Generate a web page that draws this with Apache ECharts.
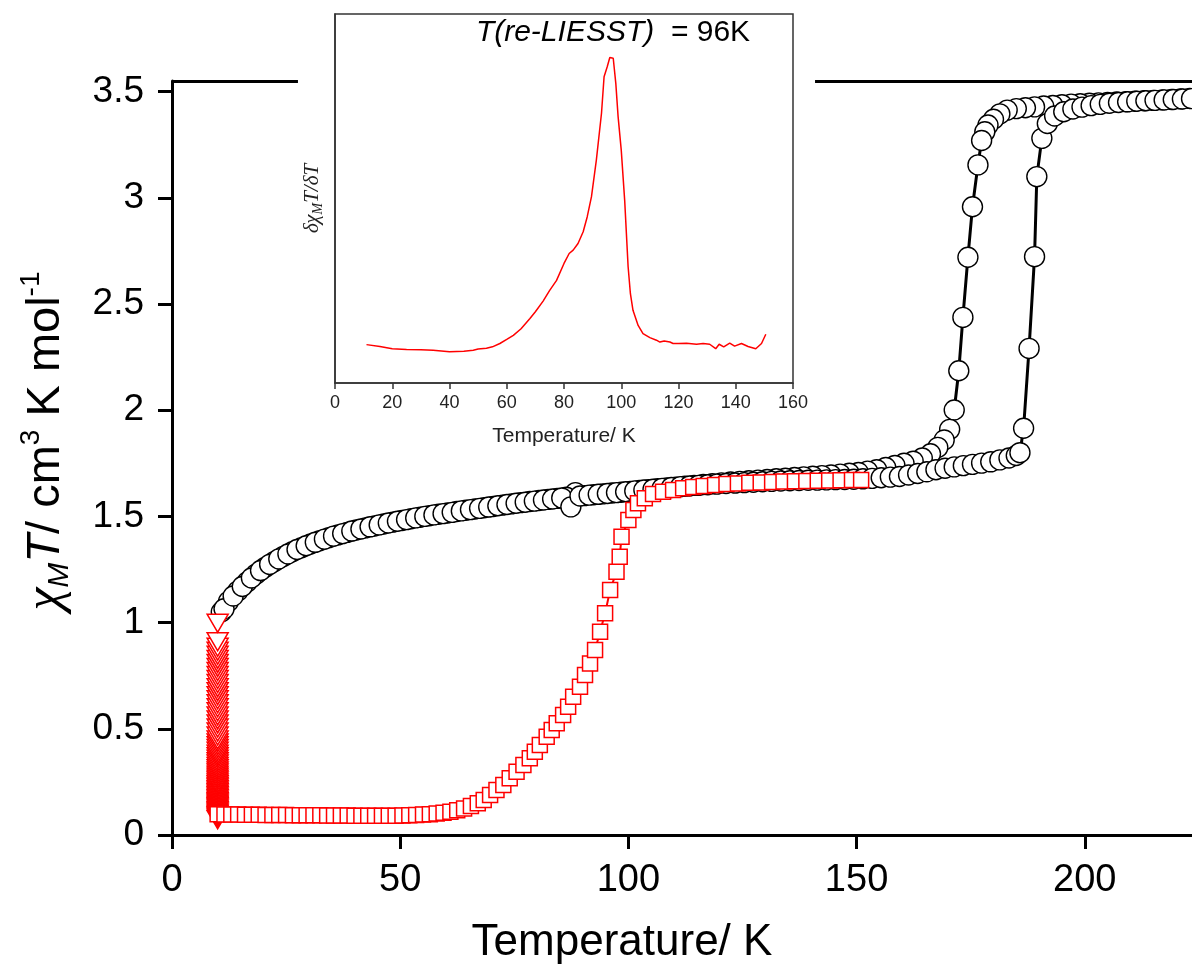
<!DOCTYPE html>
<html>
<head>
<meta charset="utf-8">
<script src="https://cdn.jsdelivr.net/npm/echarts@6/dist/echarts.min.js"></script>
<style>
html,body{margin:0;padding:0;background:#fff;}
#c{width:1192px;height:971px;}
</style>
</head>
<body>
<div id="c"></div>
<script>
// ---------- main chart data ----------
const xTicks = [0, 50, 100, 150, 200];
const yTicks = [0, 0.5, 1, 1.5, 2, 2.5, 3, 3.5];
const insetXTicks = [0, 20, 40, 60, 80, 100, 120, 140, 160];

// cooling branch (black circles), high T -> low T
const coolT = [225,223,221,219,217,215,213,211,209,207,205,203,201,199,197,195,193,191,189,187,185,183,181.4,180,178.8,178.1,177.4,176.6,175.4,174.4,173.3,172.4,171.4,170.4,169.2,167.8,166.2,164.4,162.4,160.4,158.4,156.4,154.4,152.4,150.4,148.4,146.4,144.4,142.4,140.4,138.4,136.4,134.4,132.4,130.4,128.4,126.4,124.4,122.4,120.4,118.4,116.4,114.4,112.4,110.4,108.4,106.4,104.4,102.4,100.4,98.4,96.4,94.4,92.4,90.4,88.4,86.4,84.4,82.4,80.4,78.4,76.4,74.4,72.4,70.4,68.4,66.4,64.4,62.4,60.4,58.4,56.4,54.4,52.4,50.4,48.4,46.4,44.4,42.4,40.4,38.4,36.4,34.4,32.4,30.4,28.4,26.4,24.4,22.4,20.4,18.4,16.4,14.4,12.4,10.8];
const coolV = [3.469,3.468,3.466,3.463,3.461,3.459,3.457,3.455,3.453,3.451,3.449,3.447,3.445,3.443,3.441,3.438,3.435,3.432,3.428,3.424,3.42,3.413,3.395,3.37,3.343,3.311,3.27,3.155,2.958,2.72,2.437,2.186,2.001,1.91,1.86,1.825,1.795,1.775,1.76,1.75,1.74,1.73,1.72,1.713,1.707,1.703,1.699,1.695,1.692,1.689,1.686,1.683,1.68,1.677,1.674,1.671,1.668,1.665,1.662,1.658,1.654,1.65,1.646,1.642,1.638,1.634,1.63,1.626,1.622,1.618,1.614,1.61,1.606,1.602,1.598,1.612,1.59,1.585,1.58,1.575,1.57,1.565,1.559,1.553,1.547,1.541,1.535,1.529,1.523,1.516,1.51,1.503,1.496,1.489,1.481,1.473,1.464,1.455,1.446,1.436,1.425,1.413,1.4,1.386,1.37,1.353,1.334,1.312,1.287,1.26,1.228,1.19,1.148,1.1,1.05];

// heating branch (black circles), low T -> high T
const heatT = [11.4,13.4,15.4,17.4,19.4,21.4,23.4,25.4,27.4,29.4,31.4,33.4,35.4,37.4,39.4,41.4,43.4,45.4,47.4,49.4,51.4,53.4,55.4,57.4,59.4,61.4,63.4,65.4,67.4,69.4,71.4,73.4,75.4,77.4,79.4,81.4,83.4,85.4,87.4,89.4,91.4,93.4,95.4,97.4,99.4,101.4,103.4,105.4,107.4,109.4,111.4,113.4,115.4,117.4,119.4,121.4,123.4,125.4,127.4,129.4,131.4,133.4,135.4,137.4,139.4,141.4,143.4,145.4,147.4,149.4,151.4,153.4,155.4,157.4,159.4,161.4,163.4,165.4,167.4,169.4,171.4,173.4,175.4,177.4,179.4,181.4,183.4,185,185.8,186.6,187.8,189,189.5,190.6,191.8,193.4,195.4,197.4,199.4,201.4,203.4,205.4,207.4,209.4,211.4,213.4,215.4,217.4,219.4,221.4,223.4,225.4];
const heatV = [1.065,1.125,1.17,1.21,1.245,1.274,1.3,1.323,1.344,1.362,1.378,1.393,1.407,1.419,1.431,1.441,1.451,1.46,1.469,1.477,1.485,1.493,1.5,1.507,1.513,1.519,1.526,1.532,1.538,1.544,1.55,1.556,1.562,1.567,1.572,1.577,1.582,1.587,1.545,1.596,1.6,1.604,1.608,1.612,1.616,1.62,1.624,1.628,1.632,1.636,1.64,1.643,1.646,1.649,1.652,1.655,1.657,1.659,1.661,1.663,1.665,1.667,1.668,1.669,1.67,1.671,1.672,1.673,1.674,1.675,1.677,1.679,1.682,1.685,1.688,1.695,1.702,1.71,1.72,1.727,1.733,1.739,1.745,1.751,1.757,1.766,1.775,1.787,1.8,1.915,2.291,2.723,3.1,3.28,3.35,3.385,3.405,3.418,3.427,3.434,3.44,3.445,3.449,3.452,3.455,3.457,3.459,3.461,3.463,3.465,3.467,3.468];

// heating after LIESST (red squares)
const liesstT = [10,11.5,13,14.5,16,17.5,19,20.5,22,23.5,25,26.5,28,29.5,31,32.5,34,35.5,37,38.5,40,41.5,43,44.5,46,47.5,49,50.5,52,53.5,55,56.5,58,59.5,61,62.5,64,65.5,67,68.3,69.7,71.1,72.6,74,75.5,77,78.4,79.5,80.6,82.1,83.2,84.3,85.7,86.8,87.9,89.4,90.5,91.6,92.7,93.8,94.9,96,97.4,98.1,98.5,100,101.1,102.1,103.6,105.4,107.6,109.8,112,114.2,116.5,119,121.5,124,126.5,129,131.5,134,136.5,139,141.5,144,146.5,149,151];
const liesstV = [0.098,0.097,0.096,0.096,0.095,0.095,0.095,0.094,0.094,0.094,0.094,0.093,0.093,0.093,0.093,0.093,0.092,0.092,0.092,0.092,0.091,0.091,0.091,0.091,0.091,0.091,0.091,0.092,0.093,0.094,0.096,0.098,0.101,0.105,0.11,0.117,0.125,0.136,0.149,0.165,0.188,0.212,0.235,0.267,0.298,0.33,0.361,0.392,0.424,0.463,0.494,0.526,0.565,0.604,0.651,0.698,0.753,0.808,0.871,0.957,1.044,1.153,1.24,1.31,1.404,1.483,1.53,1.562,1.585,1.605,1.616,1.624,1.632,1.638,1.643,1.648,1.652,1.655,1.658,1.66,1.662,1.664,1.666,1.667,1.668,1.669,1.67,1.671,1.672];

// irradiation at 10 K (red down triangles)
const irrTemp = 10;
const irrV = [0.072,0.079,0.085,0.091,0.097,0.103,0.109,0.115,0.121,0.127,0.133,0.139,0.145,0.151,0.157,0.164,0.171,0.178,0.185,0.192,0.199,0.206,0.213,0.221,0.229,0.237,0.245,0.254,0.263,0.272,0.282,0.292,0.302,0.312,0.323,0.334,0.345,0.357,0.369,0.381,0.394,0.407,0.42,0.434,0.448,0.466,0.485,0.504,0.523,0.542,0.561,0.58,0.599,0.618,0.637,0.656,0.675,0.694,0.713,0.732,0.751,0.77,0.789,0.808,0.827,0.846,0.865,0.884,0.91,0.997];

// ---------- inset data (derivative, arbitrary units) ----------
const derivT = [11,15.7,20,25,30,34.3,40,45,48.3,50,52.9,55,57.6,60,62.3,65,68.1,70,72.7,75,77.4,80,81.8,83.2,84.9,86.7,88.1,89.6,91.3,93.1,94,95.1,96,97.2,98.1,98.9,100,101.2,102.4,103.2,104.1,105.9,107.6,110,112.3,113.5,115,117,118.1,120,122.8,126.3,128.6,130.9,133,134.2,135.8,137.9,139.6,142,144.3,147,149,150.5];
const derivV = [10.4,9.9,9.3,9.1,9.0,8.9,8.5,8.6,8.9,9.2,9.4,9.8,10.7,11.8,12.9,14.7,17.5,19.3,22.2,25.1,27.8,32.4,35.1,36.0,37.8,41.0,45.0,50.5,60.4,73.1,83.0,85.7,88.2,88.0,81.2,72.2,63.1,49.5,31.5,24.2,19.7,15.6,13.4,12.3,11.6,11.1,11.4,11.1,10.7,10.7,10.8,10.5,10.7,10.5,9.3,10.5,9.8,10.8,10.0,10.7,9.9,9.3,10.7,13.2];

// ---------- build ----------
const zip = (a, b) => a.map((x, i) => [x, b[i]]);
const coolData = zip(coolT, coolV);
const heatData = zip(heatT, heatV);
const liesstData = zip(liesstT, liesstV);
const irrData = irrV.map(v => [irrTemp, v]);
const derivData = zip(derivT, derivV);

const SANS = "'Liberation Sans', Arial, sans-serif";
const SERIF = "'Liberation Serif', 'DejaVu Serif', serif";
const X_MAX = 223.5, Y_MAX = 3.55;

const chart = echarts.init(document.getElementById('c'), null, {renderer: 'canvas'});
chart.setOption({
  animation: false,
  backgroundColor: '#fff',
  title: [
    {
      text: 'Temperature/ K',
      left: 617, top: 916, textAlign: 'center',
      textStyle: {fontFamily: SANS, fontSize: 44, fontWeight: 'normal', color: '#000'}
    },
    {
      text: '{i|T(re-LIESST)}  = 96K',
      left: 608, top: 13, textAlign: 'center',
      textStyle: {
        fontFamily: SANS, fontSize: 30, fontWeight: 'normal', color: '#000',
        rich: {i: {fontFamily: SANS, fontSize: 30, fontStyle: 'italic', color: '#000'}}
      }
    }
  ],
  grid: [
    {left: 172, right: 0, top: 81, bottom: 136, containLabel: false},
    {left: 335, top: 14, width: 458, height: 369, show: true, borderColor: '#333', borderWidth: 1.5, backgroundColor: '#fff', z: 5}
  ],
  xAxis: [
    {
      type: 'value', gridIndex: 0, min: 0, max: X_MAX,
      axisLine: {show: true, onZero: false, lineStyle: {color: '#000', width: 3}},
      axisTick: {show: true, inside: false, length: 14, lineStyle: {color: '#000', width: 3}, customValues: xTicks},
      axisLabel: {fontFamily: SANS, fontSize: 38, color: '#000', margin: 27, customValues: xTicks},
      splitLine: {show: false}
    },
    {
      type: 'value', gridIndex: 1, min: 0, max: 160, interval: 20, z: 6,
      axisLine: {show: true, onZero: false, lineStyle: {color: '#333', width: 1.5}},
      axisTick: {show: true, inside: false, length: 6, lineStyle: {color: '#333', width: 1.5}, customValues: insetXTicks},
      axisLabel: {fontFamily: SANS, fontSize: 18, color: '#222', margin: 11, customValues: insetXTicks},
      splitLine: {show: false},
      name: 'Temperature/ K', nameLocation: 'middle', nameGap: 43,
      nameTextStyle: {fontFamily: SANS, fontSize: 21, color: '#222'}
    }
  ],
  yAxis: [
    {
      type: 'value', gridIndex: 0, min: 0, max: Y_MAX,
      axisLine: {show: true, onZero: false, lineStyle: {color: '#000', width: 3}},
      axisTick: {show: true, inside: false, length: 14, lineStyle: {color: '#000', width: 3}, customValues: yTicks},
      axisLabel: {fontFamily: SANS, fontSize: 37, color: '#000', margin: 28, customValues: yTicks},
      splitLine: {show: false},
      name: '{chi|χ}{sub|M}{it|T}{n|/ cm}{sup|3}{n| K mol}{sup|-1}',
      nameLocation: 'middle', nameRotate: 90, nameGap: 97,
      nameTextStyle: {
        fontFamily: SANS, fontSize: 47, color: '#000', padding: [0, 0, 0, 34],
        rich: {
          chi: {fontFamily: SERIF, fontStyle: 'italic', fontSize: 52, color: '#000', lineHeight: 58, verticalAlign: 'middle'},
          sub: {fontFamily: SANS, fontStyle: 'italic', fontSize: 30, color: '#000', lineHeight: 58, verticalAlign: 'bottom'},
          it: {fontFamily: SANS, fontStyle: 'italic', fontSize: 47, color: '#000', lineHeight: 58, verticalAlign: 'middle'},
          n: {fontFamily: SANS, fontSize: 47, color: '#000', lineHeight: 58, verticalAlign: 'middle'},
          sup: {fontFamily: SANS, fontSize: 28, color: '#000', lineHeight: 58, verticalAlign: 'top'}
        }
      }
    },
    {
      type: 'value', gridIndex: 1, min: 0, max: 100, z: 6,
      axisLine: {show: true, onZero: false, lineStyle: {color: '#333', width: 1.5}},
      axisTick: {show: false},
      axisLabel: {show: false},
      splitLine: {show: false},
      name: '{d|δχ}{sub|M}{d|T/δT}',
      nameLocation: 'middle', nameRotate: 90, nameGap: 10,
      nameTextStyle: {
        fontFamily: SERIF, fontSize: 21, color: '#222',
        rich: {
          d: {fontFamily: SERIF, fontStyle: 'italic', fontSize: 21, color: '#222', lineHeight: 25, verticalAlign: 'middle'},
          sub: {fontFamily: SERIF, fontStyle: 'italic', fontSize: 14, color: '#222', lineHeight: 25, verticalAlign: 'bottom'}
        }
      }
    }
  ],
  series: [
    {
      type: 'line', name: 'cool-line', xAxisIndex: 0, yAxisIndex: 0, data: coolData,
      showSymbol: false, z: 1, lineStyle: {color: '#000', width: 3}, silent: true,
      markLine: {
        symbol: 'none', silent: true, label: {show: false},
        lineStyle: {color: '#000', width: 3, type: 'solid'},
        data: [
          [{coord: [0, Y_MAX]}, {coord: [27.6, Y_MAX]}],
          [{coord: [140.9, Y_MAX]}, {coord: [X_MAX, Y_MAX]}]
        ]
      }
    },
    {
      type: 'line', name: 'heat-line', xAxisIndex: 0, yAxisIndex: 0, data: heatData,
      showSymbol: false, z: 1, lineStyle: {color: '#000', width: 3}, silent: true
    },
    {
      type: 'scatter', name: 'cool', xAxisIndex: 0, yAxisIndex: 0, data: coolData, z: 2,
      symbol: 'circle', symbolSize: 20,
      itemStyle: {color: '#fff', borderColor: '#000', borderWidth: 1.4, opacity: 1}
    },
    {
      type: 'scatter', name: 'heat', xAxisIndex: 0, yAxisIndex: 0, data: heatData, z: 2,
      symbol: 'circle', symbolSize: 20,
      itemStyle: {color: '#fff', borderColor: '#000', borderWidth: 1.4, opacity: 1}
    },
    {
      type: 'line', name: 'irr', xAxisIndex: 0, yAxisIndex: 0, data: irrData, z: 3,
      symbol: 'triangle', symbolRotate: 180, symbolSize: [21, 18], showSymbol: true,
      lineStyle: {color: '#ff0000', width: 1.5},
      itemStyle: {color: '#fff', borderColor: '#ff0000', borderWidth: 1.5}
    },
    {
      type: 'line', name: 'liesst', xAxisIndex: 0, yAxisIndex: 0, data: liesstData, z: 4,
      symbol: 'rect', symbolSize: 15, showSymbol: true,
      lineStyle: {color: '#ff0000', width: 2},
      itemStyle: {color: '#fff', borderColor: '#ff0000', borderWidth: 1.5}
    },
    {
      type: 'line', name: 'deriv', xAxisIndex: 1, yAxisIndex: 1, data: derivData, z: 7,
      showSymbol: false, smooth: false,
      lineStyle: {color: '#ff0000', width: 1.5}
    }
  ]
});
</script>
</body>
</html>
